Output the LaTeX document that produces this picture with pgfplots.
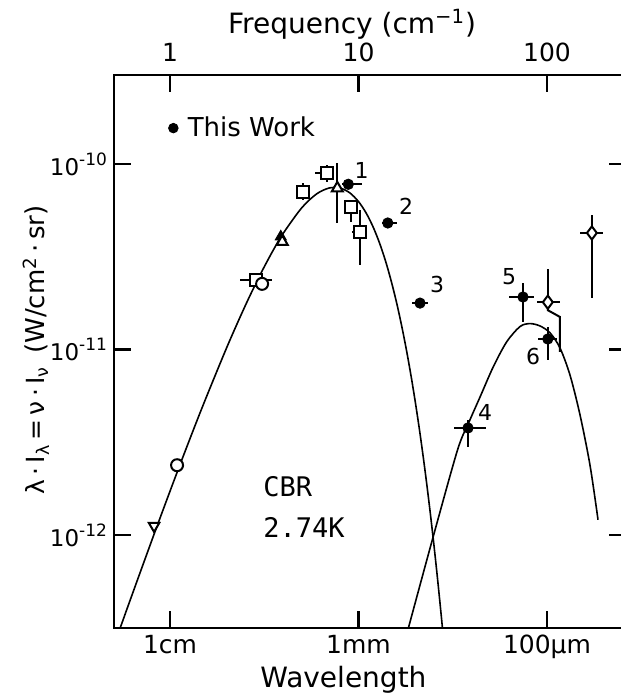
\documentclass[border=0pt]{standalone}
\usepackage{fontspec}
\setmainfont{DejaVu Sans}
\newfontfamily\monofont{DejaVu Sans Mono}
\usepackage{pgfplots}
\pgfplotsset{compat=1.18}
\newcommand{\tickfont}{\fontsize{12.5}{14}\selectfont}
\newcommand{\labfont}{\fontsize{14}{16}\selectfont}
\newcommand{\dec}[1]{10\raisebox{0.8ex}{\fontsize{8.5}{10}\selectfont -#1}}
\begin{document}
\begin{tikzpicture}
% top axis (frequency)
\begin{axis}[scale only axis, width=256pt, height=276.5pt,
  xmode=log, xmin=0.5045, xmax=262.5, ymin=0, ymax=1,
  axis x line*=top, axis y line=none,
  xminorticks=false, major tick length=8.5pt, tick align=inside,
  tick style={line width=1.1pt, black},
  axis line style={line width=1.2pt, -},
  xticklabel style={font=\tickfont, yshift=3pt},
  xtick={1,10,100}, xticklabels={1,10,100},
  xlabel={Frequency (cm\textsuperscript{−1})},
  xlabel style={font=\labfont, at={(axis description cs:0.465,1.092)}, anchor=center}]
\addplot[draw=none] coordinates {(1,0.5)};
\end{axis}
% main axis
\begin{axis}[scale only axis, width=256pt, height=276.5pt, name=ax,
  xmode=log, ymode=log, xmin=0.5045, xmax=262.5, ymin=3.155e-13, ymax=3.018e-10,
  xminorticks=false, yminorticks=false, major tick length=8.5pt, tick align=inside,
  tick style={line width=1.1pt, black},
  axis line style={line width=1.2pt},
  xticklabel style={font=\tickfont}, yticklabel style={font=\fontsize{11.5}{14}\selectfont},
  xtick={1,10,100}, xticklabels={1cm,1mm,100μm}, xtick pos=left,
  ytick={1e-12,1e-11,1e-10},
  yticklabels={\dec{12},\dec{11},\dec{10}},
  ytick pos=both, yticklabel pos=left,
  xlabel={Wavelength},
  xlabel style={font=\labfont, at={(axis description cs:0.448,-0.094)}, anchor=center},
  ylabel={{\fontsize{12.5}{15}\selectfont λ\,·\,I\textsubscript{λ}\,=\,ν\,·\,I\textsubscript{ν}}\hspace*{6.5pt}{\fontsize{13}{15}\selectfont(W/cm\textsuperscript{2}\,·\,sr)}},
  ylabel style={at={(axis description cs:-0.152,0.503)}, anchor=center},
  legend style={draw=none, fill=none, inner sep=0pt, at={(axis description cs:0.105,0.904)}, anchor=west, font=\fontsize{13}{15}\selectfont},
  legend cell align=left,
]
\addlegendimage{legend image code/.code={\fill[black] (0pt,0pt) circle (2.4pt); \path (5pt,0pt);}}
\addlegendentry{This Work}

% CBR blackbody 2.74 K
\addplot[black, line width=0.8pt, smooth] coordinates {
(0.5,2.479e-13) (0.6,4.167e-13) (0.8,9.34e-13) (1.0,1.724e-12) (1.2,2.813e-12)
(1.5,5.031e-12) (2,1.0254e-11) (2.5,1.7126e-11) (3,2.517e-11) (3.5,3.382e-11)
(4,4.252e-11) (5,5.809e-11) (6,6.906e-11) (7,7.428e-11) (8,7.418e-11)
(9,6.986e-11) (10,6.275e-11) (11,5.425e-11) (12,4.538e-11) (13,3.695e-11)
(14,2.938e-11) (15,2.286e-11) (16,1.753e-11) (17,1.320e-11) (18,9.82e-12)
(19,7.21e-12) (20,5.237e-12) (21,3.764e-12) (22,2.682e-12) (23,1.895e-12)
(24,1.329e-12) (25,9.25e-13) (26,6.40e-13) (27,4.40e-13) (28,3.01e-13) (30,1.39e-13)};

% dust emission curve
\addplot[black, line width=0.8pt, smooth] coordinates {
(17.5,2.6e-13) (18.4,3.16e-13) (24.9,9.8e-13) (33.5,2.87e-12) (38.3,4.0e-12)
(44.2,5.57e-12) (51.9,8.08e-12) (61.1,1.10e-11) (71.9,1.33e-11) (81.2,1.38e-11)
(91.8,1.34e-11) (103.8,1.23e-11) (117.2,1.02e-11) (132.4,7.29e-12)
(149.7,4.44e-12) (169.1,2.38e-12) (186.5,1.21e-12)};

% bent limit line
\addplot[black, line width=1pt] coordinates {(101,1.80e-11) (101,1.63e-11) (117,1.50e-11) (117,9.71e-12)};

% open squares
\addplot[black, only marks, mark=square*, mark size=3pt, mark options={fill=white, line width=1pt},
  error bars/.cd, x dir=both, x explicit, y dir=both, y explicit, error mark=none,
  error bar style={line width=1pt}] coordinates {
(6.78,8.91e-11) += (0.54,0.97e-11) -= (0.90,0.91e-11)
(5.10,7.09e-11) += (0,0.81e-11) -= (0,0.69e-11)
(9.09,5.89e-11) += (0,0.51e-11) -= (0,1.02e-11)
(10.2,4.31e-11) += (0.85,1.34e-11) -= (1.0,1.45e-11)
(2.86,2.37e-11) += (0.62,0) -= (0.51,0)
};

% filled triangle
\addplot[black, only marks, mark=triangle*, mark size=3.2pt] coordinates {(3.87,4.06e-11)};
% open triangles
\addplot[black, only marks, mark=triangle*, mark size=3.2pt, mark options={fill=white, line width=1pt},
  error bars/.cd, y dir=both, y explicit, error mark=none,
  error bar style={line width=1pt}] coordinates {
(7.72,7.40e-11) += (0,2.7e-11) -= (0,2.59e-11)
(3.94,3.81e-11) += (0,0) -= (0,0)
};
% open circles
\addplot[black, only marks, mark=*, mark size=3pt, mark options={fill=white, line width=1pt}] coordinates {
(3.08,2.26e-11) (1.09,2.38e-12)};
% open down triangle
\addplot[black, only marks, mark=triangle*, mark size=3pt, mark options={fill=white, line width=1pt, rotate=180}] coordinates {
(0.823,1.12e-12)};
% open diamonds
\addplot[black, only marks, mark=diamond*, mark size=3.3pt, mark options={fill=white, line width=1pt},
  error bars/.cd, x dir=both, x explicit, y dir=both, y explicit, error mark=none,
  error bar style={line width=1pt}] coordinates {
(101,1.80e-11) += (16,0.92e-11) -= (12.5,0)
(173,4.25e-11) += (25,1.06e-11) -= (23,2.35e-11)
};
% This Work (filled circles)
\addplot[black, only marks, mark=*, mark size=2.6pt,
  error bars/.cd, x dir=both, x explicit, y dir=both, y explicit, error mark=none,
  error bar style={line width=1pt}] coordinates {
(8.83,7.78e-11) += (1.57,0) -= (0.68,0)
(14.3,4.81e-11) += (1.7,0) -= (1.0,0)
(21.2,1.78e-11) += (2.2,0) -= (2.0,0)
(74.6,1.92e-11) += (10.7,0.36e-11) -= (11.7,0.51e-11)
(101,1.14e-11) += (12,0.18e-11) -= (11.4,0.263e-11)
(38.1,3.78e-12) += (9.4,0.39e-12) -= (6.0,0.80e-12)
};

\node[font=\fontsize{11}{12}\selectfont, inner sep=0pt] at (axis cs:10.4,9.2e-11) {1};
\node[font=\fontsize{11}{12}\selectfont, inner sep=0pt] at (axis cs:17.9,5.94e-11) {2};
\node[font=\fontsize{11}{12}\selectfont, inner sep=0pt] at (axis cs:26.1,2.23e-11) {3};
\node[font=\fontsize{11}{12}\selectfont, inner sep=0pt] at (axis cs:46.9,4.60e-12) {4};
\node[font=\fontsize{11}{12}\selectfont, inner sep=0pt] at (axis cs:62.9,2.46e-11) {5};
\node[font=\fontsize{11}{12}\selectfont, inner sep=0pt] at (axis cs:84.3,9.22e-12) {6};
\node[font=\monofont\fontsize{13.5}{16}\selectfont, inner sep=0pt, anchor=west] at (axis cs:3.114,1.82e-12) {CBR};
\node[font=\monofont\fontsize{13.5}{16}\selectfont, inner sep=0pt, anchor=west] at (axis cs:3.114,1.104e-12) {2.74K};
\end{axis}
\pgfresetboundingbox
\path[use as bounding box] (ax.south west) ++(-57pt,-34pt) rectangle ++(310.5pt,348pt);
\end{tikzpicture}
\end{document}
